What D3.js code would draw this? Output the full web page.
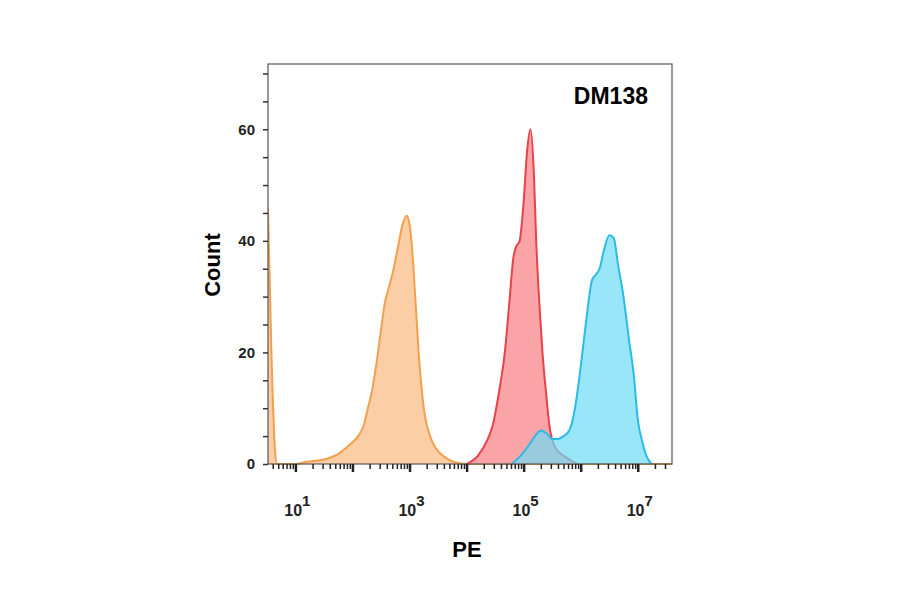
<!DOCTYPE html>
<html><head><meta charset="utf-8">
<script src="https://cdn.jsdelivr.net/npm/d3@7"></script>
<style>body{margin:0;background:#fff}</style></head>
<body><svg id="c" width="900" height="594"></svg>
<script>
// log10(PE), count
const orangeLog = [0.52,0.58,0.64,0.68,1.0,1.2,1.5,1.78,1.9,2.01,2.1,2.2,2.27,2.34,2.42,2.5,2.57,2.62,2.7,2.8,2.88,2.95,3.0,3.05,3.1,3.16,3.25,3.36,3.45,3.55,3.65,3.8,4.0,7.6];
const orangeCnt = [46,20,3,0,0,0.4,0.8,2,3,4,5,7,10,13,18,24,29,31,34,39,43,44.5,43,38,30,20,10,5,3,1.8,1,0.3,0,0];
const redLog = [4.0,4.2,4.35,4.46,4.57,4.67,4.75,4.82,4.87,4.93,5.0,5.06,5.12,5.18,5.22,5.28,5.33,5.4,5.45,5.55,5.7,5.85,5.95];
const redCnt = [0,1.5,4,7,13,20,29,37,39,40,47,56,60,52,40,28,20,12,7,3,1.5,0.5,0];
const blueLog = [4.79,4.95,5.1,5.2,5.3,5.4,5.5,5.6,5.7,5.8,5.9,5.97,6.03,6.1,6.2,6.27,6.33,6.4,6.5,6.58,6.65,6.75,6.85,6.93,7.0,7.08,7.15,7.24];
const blueCnt = [0,1.5,3.5,5,6,5.5,4.5,4.5,5,6,10,15,20,26,33,34,35,38,41,40.5,36,30,22,16,8,4,1.5,0];
const yTicks = [0,20,40,60];
const xLabelExp = [1,3,5,7];
const title = "DM138", xTitle = "PE", yTitle = "Count";

const svg = d3.select("#c");
const L=268,R=672,T=64,B=464;
const x = d3.scaleLog().domain([Math.pow(10,0.52),Math.pow(10,7.6)]).range([L,R]);
const y = d3.scaleLinear().domain([0,71.7]).range([B,T]);
svg.append("defs").append("clipPath").attr("id","cp").append("rect").attr("x",L).attr("y",T).attr("width",R-L).attr("height",B-T+2);
const g = svg.append("g").attr("clip-path","url(#cp)");
function draw(lx,cy,fill,stroke,op){
  const d = lx.map((v,i)=>[Math.pow(10,v),cy[i]]);
  const area = d3.area().x(p=>x(p[0])).y0(y(0)).y1(p=>y(p[1])).curve(d3.curveMonotoneX);
  const line = d3.line().x(p=>x(p[0])).y(p=>y(p[1])).curve(d3.curveMonotoneX);
  g.append("path").attr("d",area(d)).attr("fill",fill).attr("fill-opacity",op);
  g.append("path").attr("d",line(d)).attr("fill","none").attr("stroke",stroke).attr("stroke-width",2);
}
draw(orangeLog,orangeCnt,"#fcc596","#f2a04e",0.85);
draw(redLog,redCnt,"#f99a9e","#e8424a",0.9);
draw(blueLog,blueCnt,"#6fdcf7","#2bbbe8",0.7);

svg.append("rect").attr("x",L).attr("y",T).attr("width",R-L).attr("height",B-T).attr("fill","none").attr("stroke","#555").attr("stroke-width",1.2);
const ya = svg.append("g").attr("transform",`translate(${L},0)`)
  .call(d3.axisLeft(y).tickValues(d3.range(0,71,5)).tickSize(5).tickFormat(d=>yTicks.includes(d)?d:""));
ya.select(".domain").remove();
ya.selectAll("line").attr("stroke","#333").attr("stroke-width",1.5);
ya.selectAll("text").attr("font-family","Liberation Sans").attr("font-weight","bold").attr("font-size",15).attr("fill","#222").attr("dx",-5);
const xt=[];
for(let e=0;e<8;e++) for(let m=1;m<10;m++){const v=m*Math.pow(10,e); if(v>=x.domain()[0]&&v<=x.domain()[1]) xt.push(v);}
const xa = svg.append("g").attr("transform",`translate(0,${B})`)
  .call(d3.axisBottom(x).tickValues(xt).tickSize(4).tickFormat(""));
xa.select(".domain").remove();
xa.selectAll(".tick line").attr("stroke","#222")
  .attr("stroke-width",d=>{const l=Math.log10(d);return Math.abs(l-Math.round(l))<1e-9?2.5:1.5;})
  .attr("y2",d=>{const l=Math.log10(d);return Math.abs(l-Math.round(l))<1e-9?8:5;});
xLabelExp.forEach(e=>{
  const t=svg.append("text").attr("x",x(Math.pow(10,e))+2).attr("y",B+52).attr("text-anchor","middle")
    .attr("font-family","Liberation Sans").attr("font-weight","bold").attr("font-size",16).attr("fill","#222");
  t.append("tspan").text("10");
  t.append("tspan").attr("dy",-10).attr("font-size",15).text(e);
});
svg.append("text").attr("x",R-24).attr("y",104).attr("text-anchor","end").attr("font-family","Liberation Sans").attr("font-weight","bold").attr("font-size",23).text(title);
svg.append("text").attr("x",467).attr("y",557).attr("text-anchor","middle").attr("font-family","Liberation Sans").attr("font-weight","bold").attr("font-size",22).text(xTitle);
svg.append("text").attr("transform","translate(220,265) rotate(-90)").attr("text-anchor","middle").attr("font-family","Liberation Sans").attr("font-weight","bold").attr("font-size",22).text(yTitle);
</script></body></html>
